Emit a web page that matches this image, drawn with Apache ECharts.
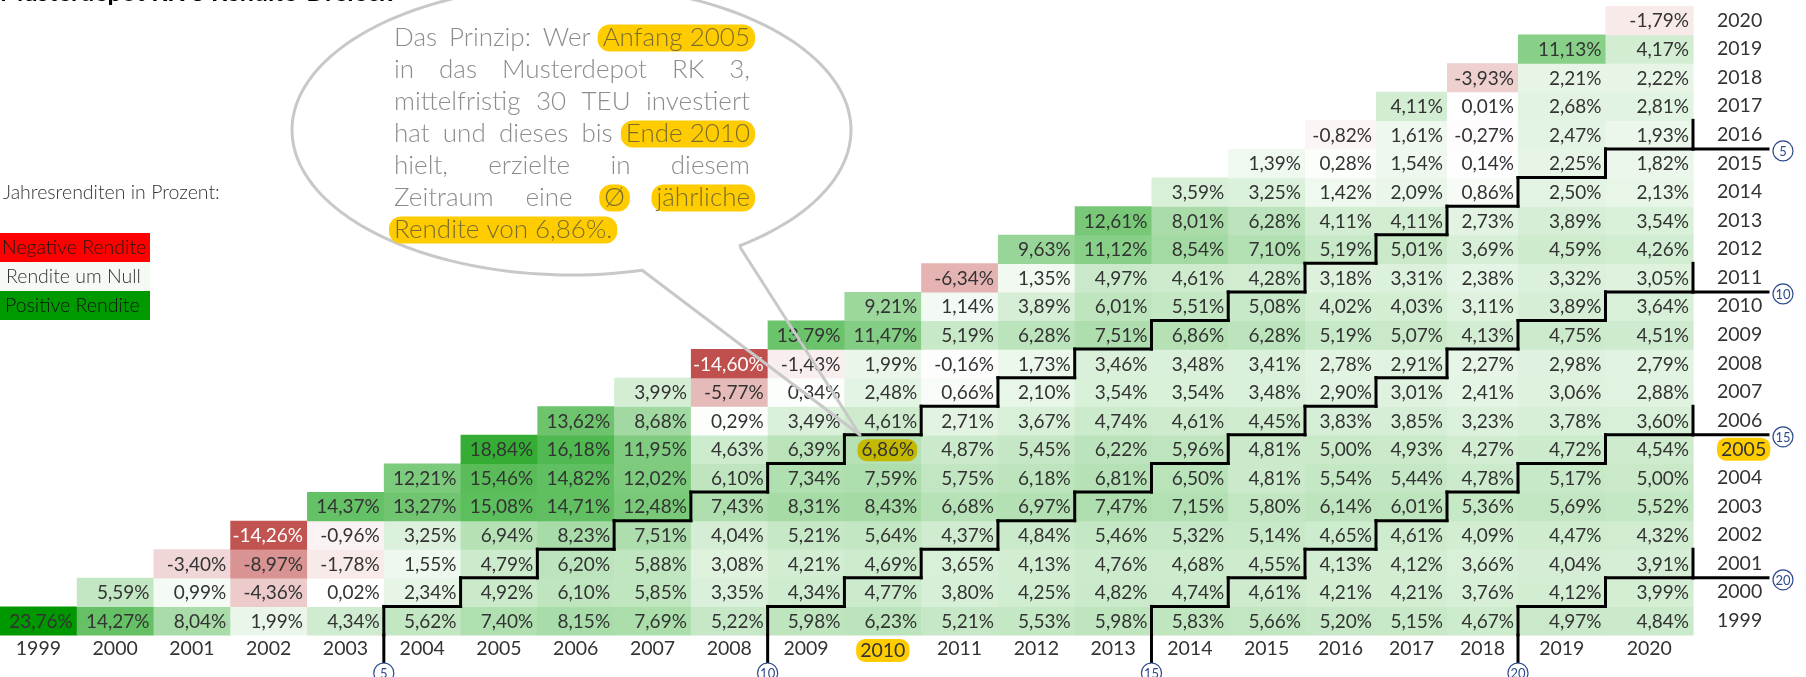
<!DOCTYPE html>
<html>
<head>
    <meta charset="UTF-8">
    <title>Musterdepot RK 3 Rendite-Dreieck</title>
    <script src="https://cdn.jsdelivr.net/npm/echarts@6/dist/echarts.min.js"></script>
    <style>
        body { margin: 0; background: #fff; }
        #chart { width: 1806px; height: 677px; }
    </style>
</head>
<body>
    <div id="chart"></div>

    <script>
            // Jahre (Anlagebeginn = Zeilen, Anlageende = Spalten)
            var jahre = [1999, 2000, 2001, 2002, 2003, 2004, 2005, 2006, 2007, 2008, 2009,
                         2010, 2011, 2012, 2013, 2014, 2015, 2016, 2017, 2018, 2019, 2020];

            // Ø jährliche Rendite in %, eine Zeile je Anfangsjahr, Werte für Endjahr = Anfangsjahr ... 2020
            var renditen = [
                [23.76, 14.27, 8.04, 1.99, 4.34, 5.62, 7.40, 8.15, 7.69, 5.22, 5.98, 6.23, 5.21, 5.53, 5.98, 5.83, 5.66, 5.20, 5.15, 4.67, 4.97, 4.84], // 1999
                [5.59, 0.99, -4.36, 0.02, 2.34, 4.92, 6.10, 5.85, 3.35, 4.34, 4.77, 3.80, 4.25, 4.82, 4.74, 4.61, 4.21, 4.21, 3.76, 4.12, 3.99], // 2000
                [-3.40, -8.97, -1.78, 1.55, 4.79, 6.20, 5.88, 3.08, 4.21, 4.69, 3.65, 4.13, 4.76, 4.68, 4.55, 4.13, 4.12, 3.66, 4.04, 3.91], // 2001
                [-14.26, -0.96, 3.25, 6.94, 8.23, 7.51, 4.04, 5.21, 5.64, 4.37, 4.84, 5.46, 5.32, 5.14, 4.65, 4.61, 4.09, 4.47, 4.32], // 2002
                [14.37, 13.27, 15.08, 14.71, 12.48, 7.43, 8.31, 8.43, 6.68, 6.97, 7.47, 7.15, 5.80, 6.14, 6.01, 5.36, 5.69, 5.52], // 2003
                [12.21, 15.46, 14.82, 12.02, 6.10, 7.34, 7.59, 5.75, 6.18, 6.81, 6.50, 4.81, 5.54, 5.44, 4.78, 5.17, 5.00], // 2004
                [18.84, 16.18, 11.95, 4.63, 6.39, 6.86, 4.87, 5.45, 6.22, 5.96, 4.81, 5.00, 4.93, 4.27, 4.72, 4.54], // 2005
                [13.62, 8.68, 0.29, 3.49, 4.61, 2.71, 3.67, 4.74, 4.61, 4.45, 3.83, 3.85, 3.23, 3.78, 3.60], // 2006
                [3.99, -5.77, 0.34, 2.48, 0.66, 2.10, 3.54, 3.54, 3.48, 2.90, 3.01, 2.41, 3.06, 2.88], // 2007
                [-14.60, -1.43, 1.99, -0.16, 1.73, 3.46, 3.48, 3.41, 2.78, 2.91, 2.27, 2.98, 2.79], // 2008
                [13.79, 11.47, 5.19, 6.28, 7.51, 6.86, 6.28, 5.19, 5.07, 4.13, 4.75, 4.51], // 2009
                [9.21, 1.14, 3.89, 6.01, 5.51, 5.08, 4.02, 4.03, 3.11, 3.89, 3.64], // 2010
                [-6.34, 1.35, 4.97, 4.61, 4.28, 3.18, 3.31, 2.38, 3.32, 3.05], // 2011
                [9.63, 11.12, 8.54, 7.10, 5.19, 5.01, 3.69, 4.59, 4.26], // 2012
                [12.61, 8.01, 6.28, 4.11, 4.11, 2.73, 3.89, 3.54], // 2013
                [3.59, 3.25, 1.42, 2.09, 0.86, 2.50, 2.13], // 2014
                [1.39, 0.28, 1.54, 0.14, 2.25, 1.82], // 2015
                [-0.82, 1.61, -0.27, 2.47, 1.93], // 2016
                [4.11, 0.01, 2.68, 2.81], // 2017
                [-3.93, 2.21, 2.22], // 2018
                [11.13, 4.17], // 2019
                [-1.79] // 2020
            ];

            // Haltedauern (Jahre), für die eine Treppenlinie gezogen wird
            var haltedauern = [5, 10, 15, 20];
            // Beispiel in der Sprechblase
            var beispielStart = 2005;
            var beispielEnde = 2010;

            // Spaltenblöcke (im Original unterschiedlich breite Spalten)
            var bloecke = [[1999, 2015], [2016, 2018], [2019, 2020]];
            var blockLeft = [0, 1305, 1518];
            var blockWidth = [1305, 213, 175];

            var bubbleLines = [
                [{t: 'Das'}, {t: 'Prinzip:'}, {t: 'Wer'}, {t: 'Anfang 2005', hl: true}],
                [{t: 'in'}, {t: 'das'}, {t: 'Musterdepot'}, {t: 'RK'}, {t: '3,'}],
                [{t: 'mittelfristig'}, {t: '30'}, {t: 'TEU'}, {t: 'investiert'}],
                [{t: 'hat'}, {t: 'und'}, {t: 'dieses'}, {t: 'bis'}, {t: 'Ende 2010', hl: true}],
                [{t: 'hielt,'}, {t: 'erzielte'}, {t: 'in'}, {t: 'diesem'}],
                [{t: 'Zeitraum'}, {t: 'eine'}, {t: 'Ø', hl: true}, {t: 'jährliche', hl: true}],
                [{t: 'Rendite von 6,86%.', hl: true}]
            ];

            var alleWerte = [].concat.apply([], renditen);
            var maxWert = Math.max.apply(null, alleWerte);
            var minWert = Math.min.apply(null, alleWerte);

            function mix(a, b, t) {
                t = Math.max(0, Math.min(1, t));
                return 'rgb(' + [0, 1, 2].map(function (i) { return Math.round(a[i] + (b[i] - a[i]) * t); }).join(',') + ')';
            }
            function zellFarbe(v) {
                if (v >= 0) return mix([255, 255, 255], [0, 152, 0], v / maxWert);
                return mix([255, 255, 255], [192, 80, 77], v / minWert);
            }
            function fmt(v) {
                return v.toFixed(2).replace('.', ',') + '%';
            }

            var chart = echarts.init(document.getElementById('chart'), null, {renderer: 'canvas'});

            var grids = [], xAxes = [], yAxes = [], series = [];
            var hlRich = {
                hl: {backgroundColor: '#FFCC00', borderRadius: 9, padding: [2, 4, 1, 4],
                     fontFamily: 'Lato', fontSize: 19.5, color: '#333'}
            };

            function renderZelle(params, api) {
                var c = api.coord([api.value(0), api.value(1)]);
                var s = api.size([1, 1]);
                var v = api.value(2);
                var x0 = c[0] - s[0] / 2, y0 = c[1] - s[1] / 2;
                var markiert = api.value(3) === beispielEnde && api.value(4) === beispielStart;
                return {
                    type: 'group',
                    children: [
                        {type: 'rect', shape: {x: x0, y: y0, width: s[0] + 0.6, height: s[1] + 0.6},
                         style: {fill: zellFarbe(v)}},
                        {type: 'text', x: x0 + s[0] - 4, y: c[1] + 1,
                         style: {text: fmt(v), align: 'right', verticalAlign: 'middle',
                                 font: '19px Lato', fill: v < -10 ? '#fff' : '#333',
                                 backgroundColor: markiert ? '#C4B800' : null,
                                 padding: markiert ? [2, 3, 1, 4] : 0, borderRadius: 9}}
                    ]
                };
            }

            function renderLinien(params, api) {
                var c = api.coord([api.value(0), api.value(1)]);
                var s = api.size([1, 1]);
                var ende = api.value(3), start = api.value(4);
                var halte = ende - start + 1;
                var x0 = c[0] - s[0] / 2, x1 = c[0] + s[0] / 2;
                var y0 = c[1] - s[1] / 2, y1 = c[1] + s[1] / 2;
                var lineStyle = {stroke: '#000', lineWidth: 3, lineCap: 'square'};
                var kinder = [];
                function kreis(cx, cy, n) {
                    kinder.push({type: 'circle', shape: {cx: cx, cy: cy, r: 10},
                                 style: {fill: '#fff', stroke: '#2E4A8C', lineWidth: 1.2}});
                    kinder.push({type: 'text', x: cx, y: cy + 1,
                                 style: {text: String(n), align: 'center', verticalAlign: 'middle',
                                         font: '13px Lato', fill: '#2E4A8C'}});
                }
                if (haltedauern.indexOf(halte) >= 0) {
                    kinder.push({type: 'line', shape: {x1: x1, y1: y0, x2: x1, y2: y1}, style: lineStyle});
                    if (start === jahre[0]) {
                        kinder.push({type: 'line', shape: {x1: x1, y1: y1, x2: x1, y2: y1 + 28}, style: lineStyle});
                        kreis(x1, y1 + 38, halte);
                    }
                }
                if (haltedauern.indexOf(halte - 1) >= 0) {
                    kinder.push({type: 'line', shape: {x1: x0, y1: y0, x2: x1, y2: y0}, style: lineStyle});
                    if (ende === jahre[jahre.length - 1]) {
                        kinder.push({type: 'line', shape: {x1: x1, y1: y0, x2: x1 + 75, y2: y0}, style: lineStyle});
                        kreis(x1 + 90, y0 + 2, halte - 1);
                    }
                }
                return {type: 'group', children: kinder};
            }

            bloecke.forEach(function (b, gi) {
                var cats = jahre.filter(function (j) { return j >= b[0] && j <= b[1]; });
                var data = [];
                renditen.forEach(function (row, i) {
                    row.forEach(function (v, k) {
                        var ende = jahre[i + k];
                        if (ende >= b[0] && ende <= b[1]) {
                            data.push([cats.indexOf(ende), i, v, ende, jahre[i]]);
                        }
                    });
                });
                grids.push({left: blockLeft[gi], width: blockWidth[gi], top: 6, height: 629,
                            containLabel: false, outerBoundsMode: 'none'});
                xAxes.push({
                    type: 'category', gridIndex: gi, data: cats.map(String),
                    axisLine: {show: false}, axisTick: {show: false}, splitLine: {show: false},
                    axisLabel: {
                        interval: 0, margin: 4, fontFamily: 'Lato', fontSize: 19.5, color: '#333',
                        formatter: function (v) { return +v === beispielEnde ? '{hl|' + v + '}' : v; },
                        rich: hlRich
                    }
                });
                yAxes.push({
                    type: 'category', gridIndex: gi, data: jahre.map(String),
                    show: gi === bloecke.length - 1, position: 'right',
                    axisLine: {show: false}, axisTick: {show: false}, splitLine: {show: false},
                    axisLabel: {
                        interval: 0, margin: 24, fontFamily: 'Lato', fontSize: 19.5, color: '#333',
                        formatter: function (v) { return +v === beispielStart ? '{hl|' + v + '}' : v; },
                        rich: hlRich
                    }
                });
                series.push({type: 'custom', xAxisIndex: gi, yAxisIndex: gi, z: 2, silent: true,
                             renderItem: renderZelle, data: data});
                series.push({type: 'custom', xAxisIndex: gi, yAxisIndex: gi, z: 3, silent: true,
                             renderItem: renderLinien, data: data});
            });

            // Sprechblase mit Blocksatz
            var graphics = [];
            var bubbleFont = '300 26px Lato';
            var ctx = document.createElement('canvas').getContext('2d');
            ctx.font = bubbleFont;
            var textLeft = 394, textWidth = 356;
            bubbleLines.forEach(function (line, li) {
                var y = 38 + li * 32;
                var w = line.map(function (t) { return ctx.measureText(t.t).width; });
                var total = w.reduce(function (a, b) { return a + b; }, 0);
                var last = li === bubbleLines.length - 1;
                var gap = last || line.length < 2 ? ctx.measureText(' ').width : (textWidth - total) / (line.length - 1);
                var x = textLeft;
                line.forEach(function (t, k) {
                    graphics.push({
                        type: 'text', x: t.hl ? x - 5 : x, y: y, z: 11,
                        style: {text: t.t, font: bubbleFont, fill: t.hl ? '#7A6E2E' : '#8C8C8C',
                                verticalAlign: 'middle',
                                backgroundColor: t.hl ? '#FFCC00' : null,
                                padding: t.hl ? [1, 5, 0, 5] : 0, borderRadius: 12}
                    });
                    x += w[k] + gap;
                });
            });

            // Umriss der Sprechblase: Ellipse mit offenem Bogen und Spitze zur Beispielzelle
            var ell = {cx: 571.5, cy: 130, rx: 279.5, ry: 145};
            var tailA = [740, 247], tailB = [642, 270], tip = [860, 435];
            var tA = Math.atan2((tailA[1] - ell.cy) / ell.ry, (tailA[0] - ell.cx) / ell.rx);
            var tB = Math.atan2((tailB[1] - ell.cy) / ell.ry, (tailB[0] - ell.cx) / ell.rx) - 2 * Math.PI;
            var pts = [];
            for (var n = 0; n <= 160; n++) {
                var t = tA + (tB - tA) * n / 160;
                pts.push([ell.cx + ell.rx * Math.cos(t), ell.cy + ell.ry * Math.sin(t)]);
            }
            pts.push(tip, tailA);
            graphics.push({
                type: 'polyline', z: 10, silent: true,
                shape: {points: pts},
                style: {fill: null, stroke: '#C8C8C8', lineWidth: 3, lineJoin: 'round'}
            });

            // Titel (oben abgeschnitten) und Legende
            graphics.push({type: 'text', x: 0, y: 5, z: 12,
                style: {text: 'Musterdepot RK 3 Rendite-Dreieck', font: 'bold 25px Lato', fill: '#000', verticalAlign: 'bottom'}});
            graphics.push({type: 'text', x: 3, y: 193, z: 12,
                style: {text: 'Jahresrenditen in Prozent:', font: '300 19.5px Lato', fill: '#333', verticalAlign: 'middle'}});
            var legende = [
                ['Negative Rendite', '#FF0000', '#1A1A1A', 2],
                ['Rendite um Null', '#F6FAF4', '#333', 6],
                ['Positive Rendite', '#009A00', '#111', 5]
            ];
            legende.forEach(function (l, i) {
                graphics.push({type: 'rect', z: 12, shape: {x: 0, y: 233 + i * 29, width: 150, height: 29},
                               style: {fill: l[1]}});
                graphics.push({type: 'text', z: 13, x: l[3], y: 248 + i * 29,
                               style: {text: l[0], font: '300 19.5px Lato', fill: l[2], verticalAlign: 'middle'}});
            });

            chart.setOption({
                animation: false,
                textStyle: {fontFamily: 'Lato'},
                grid: grids,
                xAxis: xAxes,
                yAxis: yAxes,
                series: series,
                graphic: {elements: graphics}
            });
    </script>
</body>
</html>
